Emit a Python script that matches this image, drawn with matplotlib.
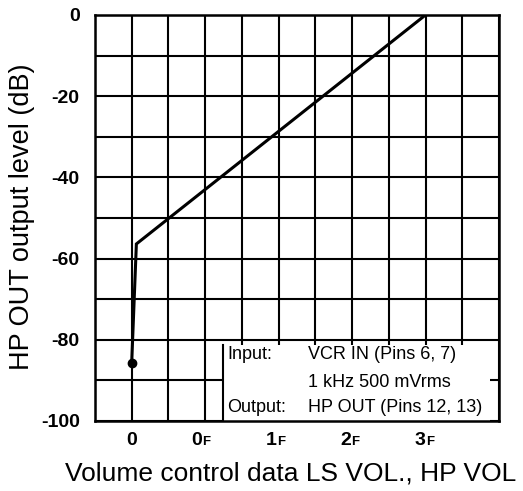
import matplotlib
matplotlib.use('Agg')
import matplotlib.pyplot as plt
from matplotlib.patches import Rectangle
import numpy as np

plt.rcParams['font.family'] = ['Liberation Sans', 'DejaVu Sans']

# Volume step (hex code) vs HP OUT level in dB
steps = [0, 1, 63]
level_db = [-85.6, -56.4, 0.0]

tick_steps = [0, 15, 31, 47, 63]
tick_digits = ['0', '0', '1', '2', '3']
tick_suffix = ['', 'F', 'F', 'F', 'F']

y_ticks = [-100, -80, -60, -40, -20, 0]

legend_rows = [
    ('Input:', 'VCR IN (Pins 6, 7)'),
    ('', '1 kHz 500 mVrms'),
    ('Output:', 'HP OUT (Pins 12, 13)'),
]


def main():
    fig = plt.figure(figsize=(5.23, 4.91), dpi=100)
    ax = fig.add_axes([0.1816, 0.1426, 0.7725, 0.8269])

    div = 63 / 8  # one grid division in step units
    ax.set_xlim(-div, 63 + 2 * div)
    ax.set_ylim(-100, 0)

    # grid divisions
    ax.set_xticks(np.arange(-div, 63 + 2.5 * div, div), minor=True)
    ax.set_xticks([])
    ax.set_yticks([-90, -70, -50, -30, -10], minor=True)
    ax.set_yticks(y_ticks)
    ax.set_yticklabels([str(v) for v in y_ticks], fontsize=14,
                       fontweight='bold')
    ax.grid(True, which='both', color='black', lw=1.5)
    ax.tick_params(axis='both', which='both', length=0)
    ax.tick_params(axis='y', pad=11)
    for s in ax.spines.values():
        s.set_linewidth(1.8)
        s.set_zorder(5)

    # hex tick labels, the F drawn smaller
    for st, dg, sf in zip(tick_steps, tick_digits, tick_suffix):
        if sf:
            ax.annotate(dg, xy=(st, 0), xycoords=('data', 'axes fraction'),
                        xytext=(0, -17.5), textcoords='offset points',
                        ha='right', va='baseline', fontsize=14,
                        fontweight='bold')
            ax.annotate(sf, xy=(st, 0), xycoords=('data', 'axes fraction'),
                        xytext=(0.5, -17.5), textcoords='offset points',
                        ha='left', va='baseline', fontsize=9.5,
                        fontweight='bold')
        else:
            ax.annotate(dg, xy=(st, 0), xycoords=('data', 'axes fraction'),
                        xytext=(0, -17.5), textcoords='offset points',
                        ha='center', va='baseline', fontsize=14,
                        fontweight='bold')

    # curve
    ax.plot(steps, level_db, color='black', lw=2.2, zorder=4,
            solid_joinstyle='miter')
    ax.plot(steps[0], level_db[0], 'o', color='black', ms=6, zorder=4)

    # conditions box
    bx0, bx1, by1 = 0.317, 0.978, 0.187
    ax.add_patch(Rectangle((bx0, 0), bx1 - bx0, by1, transform=ax.transAxes,
                           facecolor='white', edgecolor='none', zorder=3))
    ax.plot([bx0, bx0], [0, by1], transform=ax.transAxes, color='black',
            lw=1.5, zorder=3)
    row_y = [0.163, 0.096, 0.032]
    for (lab, val), yy in zip(legend_rows, row_y):
        ax.text(0.327, yy, lab, transform=ax.transAxes, fontsize=13,
                va='center', ha='left', zorder=6)
        ax.text(0.527, yy, val, transform=ax.transAxes, fontsize=13,
                va='center', ha='left', zorder=6)

    fig.text(22 / 523, 1 - 217 / 491, 'HP OUT output level (dB)',
             fontsize=19.5, rotation=90, ha='center', va='center')
    fig.text(0.556, 0.036, 'Volume control data LS VOL., HP VOL',
             fontsize=19, ha='center', va='center')

    fig.savefig('out.png', dpi=100)
    plt.close(fig)


if __name__ == "__main__":
    main()
